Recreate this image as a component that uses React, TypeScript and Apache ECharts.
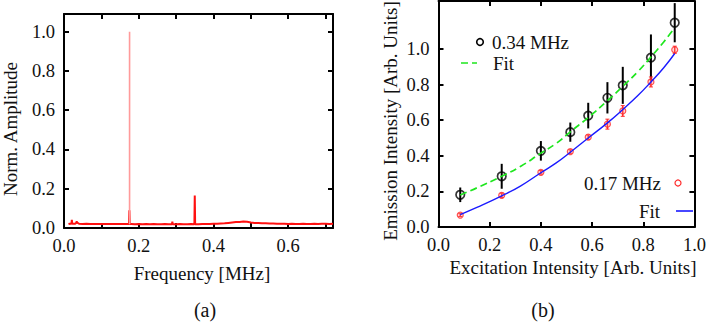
import React, { useEffect, useRef } from "react";
import * as echarts from "echarts";

// ---------- Panel (a): spectrum ----------
const specFreq = [0.012,0.016,0.020,0.021,0.022,0.026,0.030,0.033,0.034,0.035,0.040,0.050,0.060,0.070,0.080,0.090,0.100,0.110,0.120,0.130,0.140,0.150,0.160,0.170,0.174,0.175,0.176,0.180,0.190,0.200,0.210,0.220,0.230,0.240,0.250,0.260,0.270,0.280,0.289,0.290,0.291,0.300,0.310,0.320,0.330,0.340,0.349,0.350,0.351,0.360,0.370,0.380,0.390,0.400,0.410,0.420,0.430,0.440,0.450,0.460,0.470,0.480,0.490,0.500,0.510,0.520,0.530,0.540,0.550,0.560,0.570,0.580,0.590,0.600,0.610,0.620,0.630,0.640,0.650,0.660,0.670,0.680,0.690,0.700,0.710,0.720];
const specAmp = [0.020,0.022,0.021,0.042,0.021,0.022,0.022,0.026,0.035,0.027,0.022,0.021,0.022,0.020,0.021,0.020,0.021,0.020,0.021,0.020,0.021,0.020,0.020,0.021,0.020,0.090,0.020,0.020,0.019,0.020,0.019,0.020,0.019,0.020,0.019,0.019,0.020,0.019,0.019,0.032,0.019,0.019,0.020,0.019,0.019,0.020,0.019,0.166,0.019,0.019,0.020,0.020,0.021,0.022,0.022,0.023,0.024,0.026,0.028,0.030,0.031,0.033,0.032,0.028,0.026,0.025,0.024,0.024,0.023,0.023,0.022,0.022,0.022,0.021,0.022,0.021,0.021,0.022,0.021,0.021,0.022,0.021,0.022,0.022,0.021,0.022];
const peakFreq = [0.1755, 0.1755];
const peakAmp = [0.02, 1.0];
const aXTicks = [0, 0.1, 0.2, 0.3, 0.4, 0.5, 0.6, 0.7];
const aXLabels = [0, 0.2, 0.4, 0.6];
const aYTicks = [0, 0.2, 0.4, 0.6, 0.8, 1.0];

// ---------- Panel (b): emission vs excitation ----------
const excitation = [0.085, 0.247, 0.40, 0.515, 0.585, 0.66, 0.72, 0.83, 0.923];
const emission034 = [0.181, 0.285, 0.428, 0.533, 0.626, 0.726, 0.796, 0.952, 1.148];
const err034 = [0.041, 0.07, 0.055, 0.054, 0.072, 0.088, 0.104, 0.13, 0.11];
const emission017 = [0.067, 0.178, 0.307, 0.424, 0.505, 0.578, 0.652, 0.815, 0.996];
const err017 = [0.008, 0.012, 0.01, 0.01, 0.012, 0.028, 0.03, 0.028, 0.02];
const fitX = [0.085, 0.15, 0.247, 0.32, 0.40, 0.46, 0.515, 0.585, 0.66, 0.72, 0.78, 0.83, 0.88, 0.923];
const fit034 = [0.18, 0.22, 0.285, 0.34, 0.415, 0.47, 0.535, 0.615, 0.71, 0.79, 0.875, 0.955, 1.04, 1.12];
const fit017 = [0.07, 0.11, 0.175, 0.23, 0.305, 0.36, 0.42, 0.5, 0.585, 0.66, 0.74, 0.815, 0.895, 0.975];
const bXTicks = [0, 0.2, 0.4, 0.6, 0.8, 1.0];
const bYTicks = [0, 0.2, 0.4, 0.6, 0.8, 1.0];

const FONT = "Liberation Serif";

function frameAxes(gridIndex: number, min: number, max: number, ticks: number[], labels: number[] | null, kind: "x" | "y") {
  const base = {
    gridIndex, type: "value", min, max,
    splitLine: { show: false },
    axisLine: { show: true, onZero: false, lineStyle: { color: "#000", width: 2 } },
    axisTick: { show: true, inside: true, length: 5, customValues: ticks, lineStyle: { color: "#000", width: 2 } },
  } as any;
  const main = {
    ...base,
    position: kind === "x" ? "bottom" : "left",
    axisLabel: {
      show: true, customValues: labels || ticks, color: "#111", fontFamily: FONT, fontSize: 18.5,
      margin: kind === "x" ? 8 : 9,
      formatter: (v: number) => v.toFixed(1),
    },
  };
  const opp = { ...base, position: kind === "x" ? "top" : "right", axisLabel: { show: false } };
  return [main, opp];
}

function errorBarSeries(xIndex: number, yIndex: number, xs: number[], ys: number[], es: number[], color: string, cap: number, width: number) {
  return {
    type: "custom",
    xAxisIndex: xIndex, yAxisIndex: yIndex,
    data: xs.map((x, i) => [x, ys[i] - es[i], ys[i] + es[i]]),
    encode: { x: 0, y: [1, 2] },
    silent: true,
    renderItem: (params: any, api: any) => {
      const x = api.value(0);
      const lo = api.coord([x, api.value(1)]);
      const hi = api.coord([x, api.value(2)]);
      const children: any[] = [
        { type: "line", shape: { x1: lo[0], y1: lo[1], x2: hi[0], y2: hi[1] }, style: { stroke: color, lineWidth: width } },
      ];
      if (cap > 0) {
        children.push({ type: "line", shape: { x1: lo[0] - cap, y1: lo[1], x2: lo[0] + cap, y2: lo[1] }, style: { stroke: color, lineWidth: 1 } });
        children.push({ type: "line", shape: { x1: hi[0] - cap, y1: hi[1], x2: hi[0] + cap, y2: hi[1] }, style: { stroke: color, lineWidth: 1 } });
      }
      return { type: "group", children };
    },
  };
}

export default function App() {
  const ref = useRef<HTMLDivElement>(null);
  useEffect(() => {
    if (!ref.current) return;
    const chart = echarts.init(ref.current, null, { renderer: "svg" });
    const [ax0, ax1] = frameAxes(0, 0, 0.72, aXTicks, aXLabels, "x");
    const [ay0, ay1] = frameAxes(0, 0, 1.09, aYTicks, null, "y");
    const [bx0, bx1] = frameAxes(1, 0, 1.0, bXTicks, null, "x");
    const [by0, by1] = frameAxes(1, 0, 1.27, bYTicks, null, "y");
    const txt = { fontFamily: FONT, fontSize: 19, fill: "#111" };
    chart.setOption({
      animation: false,
      backgroundColor: "#fff",
      grid: [
        { left: 64, top: 14, width: 269, height: 214 },
        { left: 438.5, top: 1, width: 260.5, height: 226 },
      ],
      xAxis: [ax0, ax1, bx0, bx1],
      yAxis: [ay0, ay1, by0, by1],
      series: [
        {
          type: "line", xAxisIndex: 0, yAxisIndex: 0, showSymbol: false,
          data: specFreq.map((f, i) => [f, specAmp[i]]),
          lineStyle: { color: "#ff1010", width: 2 },
        },
        {
          type: "line", xAxisIndex: 0, yAxisIndex: 0, showSymbol: false,
          data: peakFreq.map((f, i) => [f, peakAmp[i]]),
          lineStyle: { color: "#ff9a9a", width: 1.6 },
        },
        {
          type: "line", xAxisIndex: 2, yAxisIndex: 2, showSymbol: false, smooth: true,
          data: fitX.map((x, i) => [x, fit034[i]]),
          lineStyle: { color: "#1ee61e", width: 1.7, type: [7, 4] },
        },
        {
          type: "line", xAxisIndex: 2, yAxisIndex: 2, showSymbol: false, smooth: true,
          data: fitX.map((x, i) => [x, fit017[i]]),
          lineStyle: { color: "#1a1aff", width: 1.4 },
        },
        errorBarSeries(2, 2, excitation, emission034, err034, "#000", 0, 2),
        errorBarSeries(2, 2, excitation, emission017, err017, "#ff2a2a", 2, 1.5),
        {
          type: "scatter", xAxisIndex: 2, yAxisIndex: 2, symbol: "circle", symbolSize: 6,
          data: excitation.map((x, i) => [x, emission017[i]]),
          itemStyle: { color: "rgba(255,120,120,0.35)", borderColor: "#ff2a2a", borderWidth: 1.2 },
        },
        {
          type: "scatter", xAxisIndex: 2, yAxisIndex: 2, symbol: "circle", symbolSize: 8.5,
          data: excitation.map((x, i) => [x, emission034[i]]),
          itemStyle: { color: "rgba(255,255,255,0)", borderColor: "#000", borderWidth: 1.7 },
        },
      ],
      graphic: [
        { type: "text", x: 10, y: 129, rotation: Math.PI / 2, style: { ...txt, text: "Norm. Amplitude", align: "center", verticalAlign: "middle" } },
        { type: "text", x: 202, y: 273, style: { ...txt, text: "Frequency [MHz]", align: "center", verticalAlign: "middle" } },
        { type: "text", x: 205, y: 310, style: { ...txt, fontSize: 20, text: "(a)", align: "center", verticalAlign: "middle" } },
        { type: "text", x: 390, y: 121, rotation: Math.PI / 2, style: { ...txt, text: "Emission Intensity [Arb. Units]", align: "center", verticalAlign: "middle" } },
        { type: "text", x: 573, y: 267, style: { ...txt, text: "Excitation Intensity [Arb. Units]", align: "center", verticalAlign: "middle" } },
        { type: "text", x: 543, y: 310, style: { ...txt, fontSize: 20, text: "(b)", align: "center", verticalAlign: "middle" } },
        // legend, upper
        { type: "circle", shape: { cx: 480, cy: 42, r: 3.3 }, style: { fill: "none", stroke: "#000", lineWidth: 1.6 } },
        { type: "text", x: 492, y: 42, style: { ...txt, text: "0.34 MHz", align: "left", verticalAlign: "middle" } },
        { type: "line", shape: { x1: 461, y1: 63, x2: 477, y2: 63 }, style: { stroke: "#1ee61e", lineWidth: 1.7, lineDash: [7, 4] } },
        { type: "text", x: 493, y: 63, style: { ...txt, text: "Fit", align: "left", verticalAlign: "middle" } },
        // legend, lower
        { type: "text", x: 661, y: 183, style: { ...txt, text: "0.17 MHz", align: "right", verticalAlign: "middle" } },
        { type: "circle", shape: { cx: 678, cy: 183, r: 3 }, style: { fill: "none", stroke: "#ff2a2a", lineWidth: 1.2 } },
        { type: "text", x: 660, y: 211, style: { ...txt, text: "Fit", align: "right", verticalAlign: "middle" } },
        { type: "line", shape: { x1: 676, y1: 211, x2: 693, y2: 211 }, style: { stroke: "#1a1aff", lineWidth: 1.6 } },
      ],
    });
    return () => chart.dispose();
  }, []);
  return <div ref={ref} style={{ position: "absolute", left: 0, top: 0, width: 709, height: 326, background: "#fff" }} />;
}
